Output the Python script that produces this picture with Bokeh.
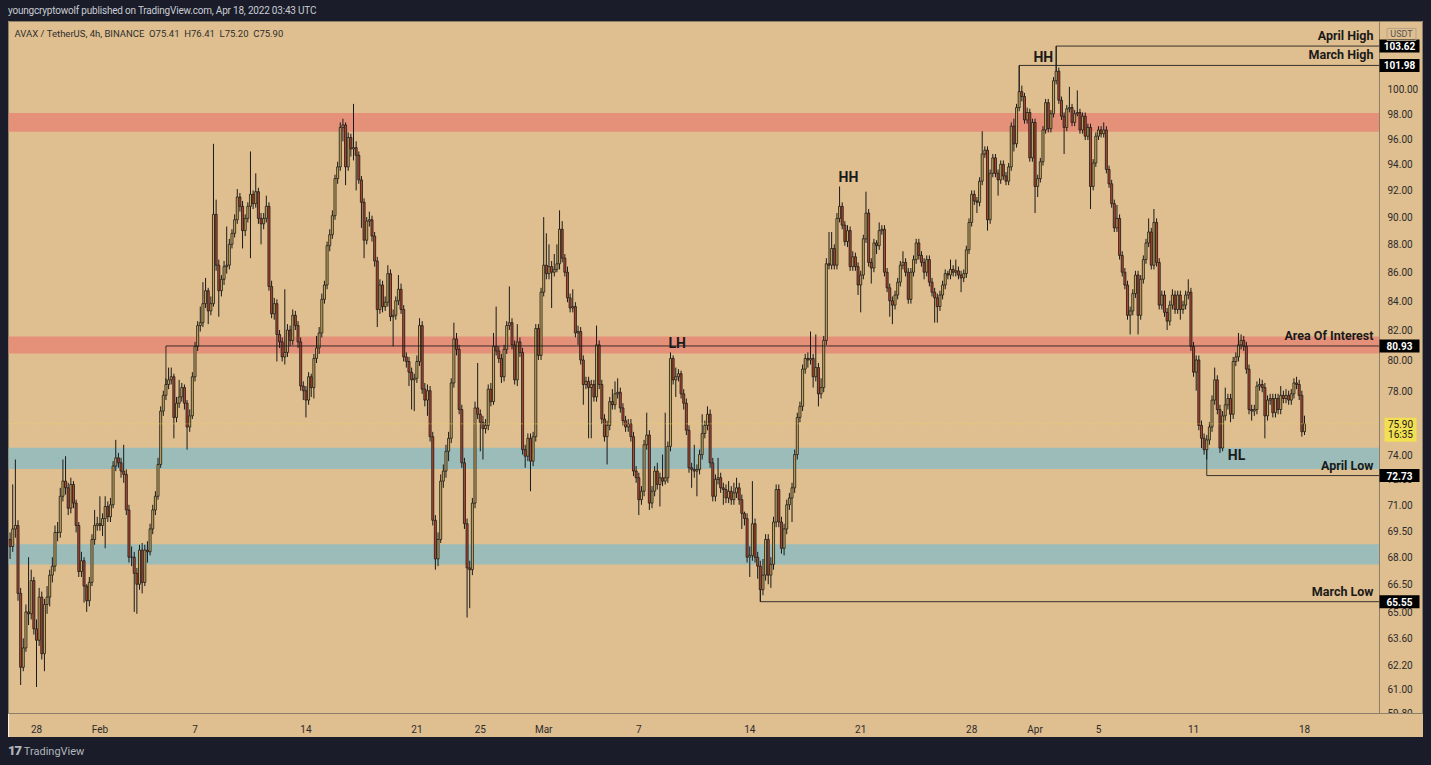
import numpy as np
import pandas as pd
from bokeh.plotting import figure
from bokeh.models import (Range1d, FixedTicker, BoxAnnotation, Label, Div, ColumnDataSource)
from bokeh.layouts import column, row
from bokeh.embed import file_html
from bokeh.resources import INLINE
from bokeh.core.properties import value

# ---------------- data ----------------
header_text = "youngcryptowolf published on TradingView.com, Apr 18, 2022 03:43 UTC"
symbol_text = "AVAX / TetherUS, 4h, BINANCE  O75.41  H76.41  L75.20  C75.90"
start_time = "2022-01-26 08:00"
first_open = 69.0

closes = [
    68.6, 69.6, 69.8, 66.0, 62.1, 63.1, 65.0, 64.9, 66.7, 64.1,
    63.5, 65.8, 62.8, 65.4, 65.8, 67.0, 67.5, 69.4, 69.4, 71.5,
    72.4, 72.0, 70.8, 72.2, 71.1, 69.8, 67.2, 67.8, 66.4, 65.6,
    66.6, 69.0, 69.8, 69.9, 69.8, 70.2, 70.9, 70.3, 71.0, 73.3,
    73.8, 73.5, 73.0, 72.8, 70.7, 68.0, 68.0, 67.1, 66.5, 68.4,
    66.6, 68.4, 68.3, 69.6, 70.7, 71.5, 73.4, 76.7, 77.7, 78.4,
    78.7, 78.9, 76.3, 77.2, 77.6, 78.2, 77.2, 75.7, 76.4, 78.9,
    80.9, 82.3, 82.5, 83.8, 84.7, 83.3, 83.8, 90.2, 86.5, 84.7,
    85.5, 86.4, 86.5, 88.0, 88.8, 89.8, 91.5, 90.8, 89.0, 89.9,
    90.8, 91.7, 91.0, 91.9, 89.9, 89.5, 89.9, 90.8, 85.0, 83.1,
    83.8, 81.7, 81.2, 80.2, 80.5, 82.0, 81.3, 83.0, 82.3, 81.2,
    78.3, 78.0, 77.4, 78.9, 78.2, 80.1, 80.8, 81.8, 84.1, 85.1,
    87.9, 88.7, 90.1, 92.9, 93.8, 96.9, 97.1, 93.8, 96.1, 95.2,
    95.3, 94.7, 92.8, 91.1, 88.3, 89.7, 89.8, 88.6, 86.8, 83.4,
    85.1, 83.6, 83.9, 85.9, 82.9, 83.0, 84.0, 84.8, 83.4, 80.2,
    79.9, 79.2, 78.7, 78.8, 79.9, 82.3, 78.1, 77.4, 78.0, 75.1,
    70.1, 67.9, 69.0, 72.4, 73.0, 74.2, 75.0, 78.5, 81.4, 80.7,
    76.8, 73.5, 69.9, 67.4, 67.3, 71.1, 76.9, 76.5, 76.0, 75.6,
    75.8, 78.1, 77.3, 80.9, 80.6, 80.1, 78.9, 80.7, 82.3, 82.5,
    81.0, 78.7, 81.2, 80.5, 74.3, 73.9, 75.0, 73.6, 75.1, 82.1,
    80.3, 84.6, 86.5, 85.9, 86.4, 86.0, 86.2, 86.6, 89.1, 87.0,
    86.0, 84.2, 83.5, 83.6, 81.8, 81.9, 80.0, 78.4, 78.6, 78.2,
    78.4, 77.6, 81.0, 78.4, 76.2, 75.1, 75.8, 77.3, 77.1, 77.8,
    77.9, 76.9, 76.1, 75.7, 75.9, 75.1, 73.0, 72.6, 71.3, 71.8,
    74.6, 75.2, 71.1, 71.8, 73.0, 72.2, 72.6, 72.4, 72.6, 74.5,
    80.1, 78.7, 78.9, 79.1, 77.8, 77.2, 75.5, 73.2, 73.1, 73.0,
    73.1, 74.0, 75.3, 75.8, 76.5, 73.5, 71.5, 72.5, 72.6, 72.0,
    71.9, 71.4, 71.8, 71.3, 71.7, 72.0, 71.3, 70.5, 70.2, 68.0,
    68.1, 69.9, 68.0, 67.5, 66.2, 67.0, 69.0, 67.0, 67.6, 70.0,
    71.9, 70.0, 68.5, 69.6, 71.0, 71.4, 72.0, 74.0, 76.3, 77.0,
    79.4, 80.1, 80.0, 80.1, 78.9, 79.5, 77.8, 78.2, 81.3, 86.6,
    86.5, 87.7, 86.5, 89.9, 90.8, 89.4, 88.2, 89.0, 86.4, 87.1,
    86.4, 85.1, 85.8, 88.4, 90.3, 86.7, 86.3, 88.1, 87.9, 89.0,
    89.1, 86.0, 84.9, 84.0, 83.7, 84.4, 85.3, 86.5, 86.7, 86.0,
    84.1, 86.0, 86.9, 88.1, 87.2, 86.7, 86.0, 86.9, 85.3, 84.6,
    84.2, 83.6, 84.4, 85.1, 85.9, 85.8, 86.2, 86.0, 86.1, 85.8,
    85.6, 85.9, 87.6, 89.6, 91.7, 91.2, 91.1, 92.7, 94.8, 95.1,
    89.8, 93.3, 94.5, 93.3, 92.8, 94.0, 93.1, 92.7, 93.8, 97.0,
    95.6, 98.5, 99.8, 99.4, 97.5, 98.1, 94.5, 97.3, 92.3, 92.9,
    94.2, 96.7, 98.9, 96.8, 98.0, 100.7, 101.5, 99.1, 97.8, 96.9,
    98.4, 98.5, 97.3, 98.0, 98.1, 96.7, 97.8, 96.2, 96.9, 92.3,
    94.1, 96.2, 96.7, 96.4, 96.7, 93.6, 92.5, 91.0, 89.2, 89.9,
    87.2, 86.0, 85.1, 83.0, 83.3, 84.5, 85.8, 83.0, 85.5, 86.9,
    88.1, 88.9, 86.5, 89.6, 86.7, 83.7, 84.4, 83.2, 82.6, 83.7,
    84.4, 83.4, 84.4, 83.4, 83.7, 84.4, 84.6, 80.9, 79.2, 80.0,
    75.8, 75.0, 74.3, 74.9, 75.7, 77.4, 78.7, 76.8, 74.4, 76.4,
    77.1, 77.5, 76.5, 79.9, 80.2, 81.0, 81.3, 80.9, 79.4, 76.8,
    76.7, 76.8, 78.3, 78.4, 78.2, 76.4, 77.4, 77.5, 76.6, 77.5,
    76.8, 77.7, 77.5, 77.7, 77.4, 77.8, 78.5, 78.4, 77.7, 75.41,
    75.90,
]

highs = [
    69.4, 72.2, 73.7, 70.1, 66.3, 63.6, 65.4, 68.0, 67.3, 66.9,
    64.6, 66.3, 66.1, 65.7, 66.4, 67.3, 68.0, 69.8, 70.0, 72.0,
    73.7, 73.9, 72.3, 72.6, 72.4, 71.3, 70.0, 68.3, 68.0, 66.5,
    66.9, 69.3, 70.7, 70.3, 71.5, 70.5, 71.5, 71.2, 71.4, 73.6,
    74.9, 74.1, 73.8, 74.6, 73.1, 71.0, 68.6, 68.3, 67.4, 68.7,
    68.8, 68.7, 68.9, 69.9, 71.0, 71.8, 73.8, 77.0, 78.0, 78.8,
    79.5, 79.5, 79.1, 77.6, 78.7, 78.5, 78.4, 77.4, 76.8, 79.2,
    81.2, 82.6, 83.6, 85.3, 85.6, 84.9, 84.3, 95.6, 91.3, 86.9,
    85.8, 86.8, 89.3, 88.4, 89.1, 90.2, 92.1, 91.8, 91.2, 90.2,
    91.1, 95.0, 92.0, 93.3, 92.2, 90.3, 90.3, 91.6, 91.1, 85.4,
    84.2, 84.1, 82.0, 81.5, 84.8, 82.4, 82.3, 83.4, 83.3, 82.6,
    81.5, 78.6, 78.3, 79.2, 79.1, 80.4, 81.6, 82.2, 84.5, 85.4,
    88.2, 89.1, 90.5, 93.2, 94.2, 97.3, 97.6, 97.3, 96.5, 96.4,
    98.8, 95.8, 95.0, 93.1, 91.4, 90.0, 90.4, 90.1, 88.9, 87.1,
    85.5, 85.4, 84.3, 86.5, 86.2, 83.4, 84.3, 85.8, 85.2, 83.7,
    80.5, 80.2, 79.5, 79.1, 80.3, 82.8, 82.6, 78.5, 78.4, 78.3,
    75.4, 70.4, 69.4, 72.8, 73.4, 74.6, 75.4, 78.8, 82.5, 81.8,
    81.0, 77.1, 73.8, 70.2, 67.8, 71.4, 77.3, 79.8, 76.8, 76.4,
    76.2, 78.4, 78.5, 81.8, 83.6, 80.9, 80.4, 81.0, 82.6, 85.0,
    82.8, 81.3, 82.4, 81.5, 80.8, 74.6, 75.3, 75.3, 75.4, 82.4,
    82.4, 84.9, 90.0, 88.8, 88.0, 86.8, 87.3, 88.0, 90.5, 89.7,
    87.3, 86.4, 84.5, 84.8, 83.9, 82.3, 82.2, 80.3, 78.9, 78.9,
    78.7, 78.7, 82.3, 81.3, 78.7, 76.5, 76.1, 77.6, 78.1, 78.6,
    78.8, 78.2, 77.2, 76.4, 76.2, 76.2, 75.4, 73.3, 72.9, 72.1,
    74.9, 76.6, 75.5, 72.1, 73.3, 73.5, 72.9, 74.0, 76.6, 74.8,
    80.5, 80.3, 79.5, 79.4, 79.3, 78.1, 77.5, 75.8, 73.5, 74.6,
    73.4, 74.3, 76.5, 76.1, 77.0, 76.8, 73.8, 72.8, 73.8, 72.9,
    72.3, 72.2, 72.4, 72.1, 72.3, 72.6, 72.3, 71.6, 70.6, 70.5,
    68.6, 72.4, 70.2, 68.3, 67.8, 67.9, 69.3, 69.3, 68.0, 70.3,
    72.2, 72.2, 70.3, 69.9, 71.3, 71.7, 72.3, 74.3, 76.6, 77.3,
    79.7, 80.4, 80.5, 81.9, 80.4, 81.7, 79.8, 78.8, 81.6, 87.0,
    88.9, 88.9, 88.0, 90.3, 92.3, 91.1, 89.7, 89.4, 89.3, 87.5,
    87.4, 86.7, 86.1, 88.7, 91.9, 90.6, 87.0, 88.4, 88.3, 89.6,
    89.4, 89.4, 86.3, 85.2, 84.3, 84.7, 85.6, 86.8, 87.5, 87.0,
    86.3, 86.3, 87.2, 88.4, 88.4, 87.5, 87.0, 87.2, 87.2, 85.6,
    84.9, 84.5, 84.7, 85.4, 86.2, 86.1, 86.9, 86.5, 86.9, 86.4,
    86.1, 86.2, 87.9, 89.9, 92.0, 92.0, 91.5, 93.0, 96.6, 95.4,
    95.4, 93.6, 94.8, 94.8, 93.6, 94.3, 94.3, 93.4, 94.1, 97.3,
    97.6, 98.8, 101.98, 100.3, 99.7, 98.5, 98.4, 97.6, 97.6, 93.2,
    94.5, 97.0, 99.2, 99.2, 98.3, 101.0, 103.62, 101.8, 99.4, 98.1,
    98.7, 100.2, 98.8, 98.3, 99.9, 98.4, 98.1, 98.1, 97.2, 97.2,
    94.4, 96.5, 97.0, 97.0, 97.3, 97.0, 93.9, 92.8, 91.3, 90.9,
    90.2, 87.5, 86.3, 85.4, 83.6, 84.8, 86.1, 86.1, 85.8, 87.2,
    88.4, 89.9, 89.2, 90.6, 89.9, 87.0, 84.7, 84.7, 83.5, 84.0,
    84.8, 84.7, 84.7, 84.7, 84.0, 84.7, 85.5, 84.9, 81.2, 80.3,
    80.3, 76.1, 75.3, 75.2, 76.0, 77.7, 79.5, 79.0, 77.1, 76.7,
    78.2, 77.8, 77.8, 80.2, 80.5, 81.8, 81.7, 81.6, 81.2, 79.7,
    77.1, 77.1, 78.6, 78.8, 78.7, 78.5, 77.7, 77.8, 77.8, 77.8,
    77.8, 78.3, 78.0, 78.1, 78.0, 78.1, 78.8, 78.9, 78.7, 78.0,
    76.41,
]

lows = [
    67.9, 68.3, 69.1, 65.6, 61.2, 61.9, 62.9, 64.3, 64.6, 63.8,
    61.1, 63.2, 62.5, 61.9, 64.9, 65.3, 66.6, 67.2, 68.9, 69.1,
    71.2, 71.6, 70.4, 70.5, 70.8, 69.4, 66.9, 66.9, 65.5, 65.0,
    65.3, 66.4, 68.7, 69.5, 69.5, 69.2, 68.5, 70.0, 70.0, 70.8,
    73.0, 73.2, 72.6, 72.3, 70.4, 67.7, 67.5, 65.0, 64.9, 66.2,
    66.0, 66.4, 67.7, 68.1, 69.3, 70.4, 71.3, 73.2, 76.4, 77.4,
    78.1, 78.4, 75.0, 76.0, 76.9, 77.3, 76.8, 74.3, 75.4, 76.2,
    78.6, 80.6, 81.9, 82.2, 83.5, 82.4, 83.0, 83.6, 86.1, 82.9,
    84.3, 85.1, 85.9, 86.2, 87.7, 88.5, 89.5, 90.4, 87.7, 88.6,
    89.6, 87.0, 90.6, 90.7, 89.5, 88.0, 89.1, 89.6, 84.7, 82.8,
    82.7, 79.9, 80.8, 79.9, 79.7, 80.2, 80.9, 81.0, 82.0, 80.8,
    78.0, 77.4, 76.3, 77.1, 77.6, 77.5, 79.8, 80.4, 81.5, 83.8,
    84.8, 87.5, 88.4, 89.8, 92.5, 93.5, 95.8, 92.4, 93.5, 94.6,
    94.3, 92.0, 92.5, 89.2, 87.0, 88.0, 89.3, 88.2, 86.4, 82.2,
    83.1, 83.2, 83.3, 83.6, 82.6, 80.9, 82.7, 83.7, 83.1, 79.9,
    79.5, 78.3, 76.8, 76.7, 78.5, 79.6, 77.8, 77.0, 76.4, 74.8,
    69.8, 67.3, 67.5, 68.8, 72.0, 72.6, 73.6, 74.7, 78.2, 80.3,
    76.5, 73.2, 69.6, 64.7, 65.2, 67.0, 70.8, 76.2, 74.2, 73.7,
    75.3, 75.5, 77.0, 77.1, 80.3, 79.8, 78.5, 78.6, 80.4, 82.0,
    80.7, 78.4, 78.3, 80.2, 74.0, 73.2, 73.6, 71.8, 73.3, 74.8,
    80.0, 80.0, 84.3, 85.5, 85.5, 83.5, 85.7, 86.0, 86.2, 86.7,
    85.7, 83.9, 83.2, 83.2, 81.5, 81.0, 79.7, 77.1, 78.1, 75.0,
    75.0, 77.3, 77.3, 78.1, 75.9, 74.8, 73.4, 75.5, 76.8, 76.8,
    77.5, 76.6, 75.8, 75.4, 75.4, 74.8, 72.7, 72.3, 70.4, 71.0,
    71.5, 74.3, 70.7, 70.8, 71.5, 71.9, 70.9, 72.1, 72.2, 72.3,
    74.2, 78.4, 77.6, 78.6, 77.5, 76.8, 75.2, 72.9, 72.0, 72.6,
    71.5, 72.8, 73.7, 75.0, 75.5, 73.2, 71.2, 71.2, 72.2, 71.7,
    71.0, 71.1, 71.1, 71.0, 71.0, 71.4, 71.0, 69.6, 69.8, 67.7,
    66.9, 67.8, 67.7, 66.8, 65.55, 65.9, 66.7, 66.5, 66.3, 67.3,
    69.7, 69.7, 68.2, 68.1, 69.3, 70.7, 70.0, 71.7, 73.7, 76.0,
    76.7, 79.1, 79.5, 79.7, 78.2, 78.6, 77.0, 77.5, 77.9, 81.0,
    86.2, 86.2, 86.2, 86.2, 89.6, 89.1, 87.9, 87.8, 86.1, 86.1,
    86.1, 84.4, 83.2, 85.5, 88.1, 86.4, 85.2, 86.0, 87.3, 87.6,
    88.7, 85.7, 84.6, 82.9, 82.4, 83.4, 84.1, 85.0, 86.2, 85.7,
    83.8, 83.8, 85.7, 86.6, 86.9, 86.4, 85.5, 85.7, 85.0, 84.3,
    82.5, 82.5, 83.3, 84.1, 84.8, 85.5, 85.5, 85.7, 85.7, 85.5,
    84.6, 85.3, 85.6, 87.3, 89.3, 90.9, 90.3, 90.8, 92.4, 94.5,
    89.0, 89.5, 93.0, 93.0, 91.6, 92.5, 92.8, 92.4, 92.4, 93.5,
    95.0, 95.3, 98.2, 99.0, 97.2, 97.2, 94.2, 94.2, 90.3, 91.5,
    92.6, 93.9, 96.4, 96.5, 96.5, 97.7, 100.4, 98.8, 97.5, 94.8,
    96.6, 98.1, 97.0, 97.0, 97.8, 96.4, 96.4, 95.9, 95.9, 90.6,
    92.0, 93.8, 95.9, 96.1, 96.1, 93.3, 92.2, 90.7, 88.9, 88.9,
    86.9, 85.7, 84.8, 82.7, 81.7, 83.0, 84.2, 81.7, 82.7, 85.2,
    86.6, 87.8, 86.2, 86.2, 86.4, 83.4, 83.4, 82.9, 82.0, 82.3,
    83.4, 83.1, 83.1, 82.7, 83.1, 83.4, 84.1, 80.6, 78.9, 78.0,
    75.5, 74.4, 74.0, 73.7, 74.6, 75.4, 77.1, 76.5, 74.1, 74.2,
    76.1, 76.8, 76.0, 76.2, 79.6, 79.9, 80.7, 80.6, 79.1, 76.5,
    76.1, 76.4, 76.5, 78.0, 77.9, 75.0, 76.1, 77.1, 76.3, 76.3,
    76.5, 76.5, 77.2, 77.2, 77.1, 77.1, 77.5, 78.1, 77.4, 75.1,
    75.20,
]

tick_dates = ["2022-01-28", "2022-02-01", "2022-02-07", "2022-02-14", "2022-02-21",
              "2022-02-25", "2022-03-01", "2022-03-07", "2022-03-14", "2022-03-21",
              "2022-03-28", "2022-04-01", "2022-04-05", "2022-04-11", "2022-04-18"]
tick_labels = ["28", "Feb", "7", "14", "21", "25", "Mar", "7", "14", "21", "28",
               "Apr", "5", "11", "18"]
price_ticks = [59.8, 61.0, 62.2, 63.6, 65.0, 66.5, 68.0, 69.5, 71.0, 72.5, 74.0,
               76.0, 78.0, 80.0, 82.0, 84.0, 86.0, 88.0, 90.0, 92.0, 94.0, 96.0,
               98.0, 100.0]
price_min, price_max = 59.78, 105.74

zone_bottoms = [96.55, 80.42, 73.12, 67.59]
zone_tops = [98.05, 81.57, 74.41, 68.73]
zone_kinds = ["supply", "supply", "demand", "demand"]

level_names = ["April High", "March High", "Area Of Interest", "April Low", "March Low"]
level_values = [103.62, 101.98, 80.93, 72.73, 65.55]
level_times = ["2022-04-02 08:00", "2022-03-31 00:00", "2022-02-05 04:00",
               "2022-04-11 20:00", "2022-03-14 16:00"]
level_side = ["high", "high", "high", "low", "low"]

pattern_texts = ["HH", "HH", "LH", "HL"]
pattern_times = ["2022-03-19 16:00", "2022-04-02 08:00", "2022-03-09 00:00", "2022-04-11 20:00"]

last_price = 75.90
countdown = "16:35"
currency = "USDT"

# ---------------- styling ----------------
DARK = "#1a1d29"
TAN = "#dfbe8f"
RED_ZONE = "#e5917a"
BLUE_ZONE = "#9bbcb8"
UP = "#caa95b"
DOWN = "#b2452d"
INK = "#1a1a1a"
EDGE = "#8c7f6a"
FONT = "Roboto"

origin = pd.Timestamp("2022-01-28")
day = pd.Timedelta(days=1)
times = pd.date_range(start_time, periods=len(closes), freq="4h")
assert len(closes) == len(highs) == len(lows)
xs = np.asarray((times - origin) / day, dtype=float)
opens = [first_open] + closes[:-1]
o = np.array(opens); c = np.array(closes)
src = ColumnDataSource(dict(
    x=xs, h=highs, l=lows, top=np.maximum(o, c), bot=np.minimum(o, c),
    color=[UP if cc >= oo else DOWN for oo, cc in zip(o, c)],
))

# geometry of the panel (pixels)
FIG_W, FIG_H = 1415, 716
PRICE_AREA_W = 1371          # width of the candle area, left of the price scale
FRAME_H = 695
px_per_day = 15.85
d_start = -28 / px_per_day
axis_x = d_start + PRICE_AREA_W / px_per_day
d_end = d_start + FIG_W / px_per_day
px_per_ln = FRAME_H / np.log(price_max / price_min)


def shift_px(v, px):
    """price that sits px pixels below price v on the log scale"""
    return v * np.exp(-px / px_per_ln)


def dx_px(px):
    return px / px_per_day


p = figure(width=FIG_W, height=FIG_H, x_range=Range1d(d_start, d_end),
           y_range=Range1d(price_min, price_max), y_axis_type="log", y_axis_location=None,
           output_backend="svg", toolbar_location=None,
           min_border_left=0, min_border_right=0, min_border_top=0, min_border_bottom=21,
           background_fill_color=TAN, border_fill_color=TAN, outline_line_color=EDGE)
p.xgrid.visible = False
p.ygrid.visible = False

for b, t, k in zip(zone_bottoms, zone_tops, zone_kinds):
    p.add_layout(BoxAnnotation(bottom=b, top=t, right=axis_x,
                               fill_color=RED_ZONE if k == "supply" else BLUE_ZONE,
                               fill_alpha=1, line_color=None, level="underlay"))

p.segment("x", "h", "x", "l", source=src, line_color=INK, line_width=1)
p.vbar(x="x", top="top", bottom="bot", width=0.13, fill_color="color",
       line_color=INK, line_width=0.8, source=src)

# current price dotted line
p.segment(x0=[d_start], y0=[last_price], x1=[axis_x], y1=[last_price],
          line_color="#ecd264", line_dash="1 2", line_width=1)

# level lines
t_index = {t: i for i, t in enumerate(times)}
for name, v, t, side in zip(level_names, level_values, level_times, level_side):
    i = t_index[pd.Timestamp(t)]
    xb = xs[i]
    edge = src.data["top"][i] if side == "high" else src.data["bot"][i]
    p.segment(x0=[xb], y0=[v], x1=[axis_x], y1=[v], line_color=INK, line_width=1, line_alpha=0.85)
    p.segment(x0=[xb], y0=[v], x1=[xb], y1=[edge], line_color=INK, line_width=1, line_alpha=0.85)

p.text(x=[axis_x] * len(level_values), y=level_values, text=level_names,
       x_offset=-6, y_offset=-3, text_align="right", text_baseline="bottom",
       text_font=value(FONT), text_font_size="12.5px", text_font_style="bold", text_color=INK)

# pattern labels
pat_specs = [("left", "bottom", -1, -1, "high"), ("right", "top", -3, 3, "level0"),
             ("left", "middle", -2, -3, "level2"), ("left", "middle", 21, -5, "low")]
for txt, t, spec in zip(pattern_texts, pattern_times, pat_specs):
    i = t_index[pd.Timestamp(t)]
    align, base, dx, dy, anchor = spec
    if anchor == "high":
        yv = highs[i]
    elif anchor == "low":
        yv = lows[i]
    else:
        yv = level_values[int(anchor[-1])]
    p.text(x=[xs[i]], y=[yv], text=[txt], x_offset=dx, y_offset=dy, text_align=align,
           text_baseline=base, text_font=value(FONT), text_font_size="14px",
           text_font_style="bold", text_color=INK)

# ---- price scale (drawn in the right part of the panel) ----
p.segment(x0=[axis_x], y0=[price_min], x1=[axis_x], y1=[price_max], line_color=EDGE, line_width=1)
p.text(x=[axis_x] * len(price_ticks), y=price_ticks, text=[f"{t:.2f}" for t in price_ticks],
       x_offset=8, text_align="left", text_baseline="middle", text_font=value(FONT),
       text_font_size="10px", text_color="#2b2b2b")

tag_cx = axis_x + dx_px(20)
p.rect(x=[tag_cx] * len(level_values), y=level_values, width=40, height=13,
       width_units="screen", height_units="screen", fill_color="#000000", line_color=None)
p.text(x=[tag_cx] * len(level_values), y=level_values, text=[f"{v:.2f}" for v in level_values],
       text_align="center", text_baseline="middle", text_font=value(FONT),
       text_font_size="10px", text_font_style="bold", text_color="#ffffff")

# last price tag (yellow, two lines)
p.rect(x=[axis_x + dx_px(21)], y=[shift_px(last_price, 6)], width=32, height=24,
       width_units="screen", height_units="screen", fill_color="#f3df52", line_color=None)
p.text(x=[axis_x + dx_px(21)] * 2, y=[last_price, shift_px(last_price, 11)],
       text=[f"{last_price:.2f}", countdown], text_align="center", text_baseline="middle",
       text_font=value(FONT), text_font_size="10px", text_color="#1a1a1a")

# currency badge
usdt_y = shift_px(price_max, 13)
p.rect(x=[axis_x + dx_px(22)], y=[usdt_y], width=29, height=12, width_units="screen",
       height_units="screen", fill_color=None, line_color="#b3a486", line_width=1)
p.text(x=[axis_x + dx_px(22)], y=[usdt_y], text=[currency], text_align="center",
       text_baseline="middle", text_font=value(FONT), text_font_size="9px",
       text_color="#555555")

# time axis
xticks = [int(round((pd.Timestamp(d) - origin) / day)) for d in tick_dates]
p.xaxis.ticker = FixedTicker(ticks=xticks)
p.xaxis.major_label_overrides = {k: v for k, v in zip(xticks, tick_labels)}
ax = p.xaxis[0]
ax.axis_line_color = EDGE
ax.major_tick_line_color = None
ax.minor_tick_line_color = None
ax.major_label_text_font = FONT
ax.major_label_text_font_size = "10px"
ax.major_label_text_color = "#2b2b2b"
ax.major_label_standoff = 4

# symbol legend
p.add_layout(Label(x=d_start, y=price_max, text=symbol_text.replace(" ", "\u00a0"), x_offset=6,
                   y_offset=-12, text_align="left", text_baseline="middle", text_color="#2e2e2e",
                   text_font=FONT, text_font_size="9.5px"))

header = Div(text=f"<div style='padding-left:8px;line-height:21px;white-space:nowrap;"
                  f"letter-spacing:-0.2px'>{header_text}</div>",
             width=1431, height=21, margin=0,
             styles={"background-color": DARK, "color": "#c9ccd4", "font-family": FONT,
                     "font-size": "10px"})
footer = Div(text="<div style='padding-left:8px;line-height:28px;white-space:nowrap'>"
                  "<span style='font-weight:900;font-size:13px;letter-spacing:-1px'>17</span>"
                  "&nbsp;TradingView</div>",
             width=1431, height=28, margin=0,
             styles={"background-color": DARK, "color": "#b2b5be", "font-family": FONT,
                     "font-size": "11px"})
left = Div(text="", width=8, height=FIG_H, margin=0, styles={"background-color": DARK})
right = Div(text="", width=8, height=FIG_H, margin=0, styles={"background-color": DARK})

layout = column(header, row(left, p, right, spacing=0), footer, spacing=0)
open("out.html", "w").write(file_html(layout, INLINE))
